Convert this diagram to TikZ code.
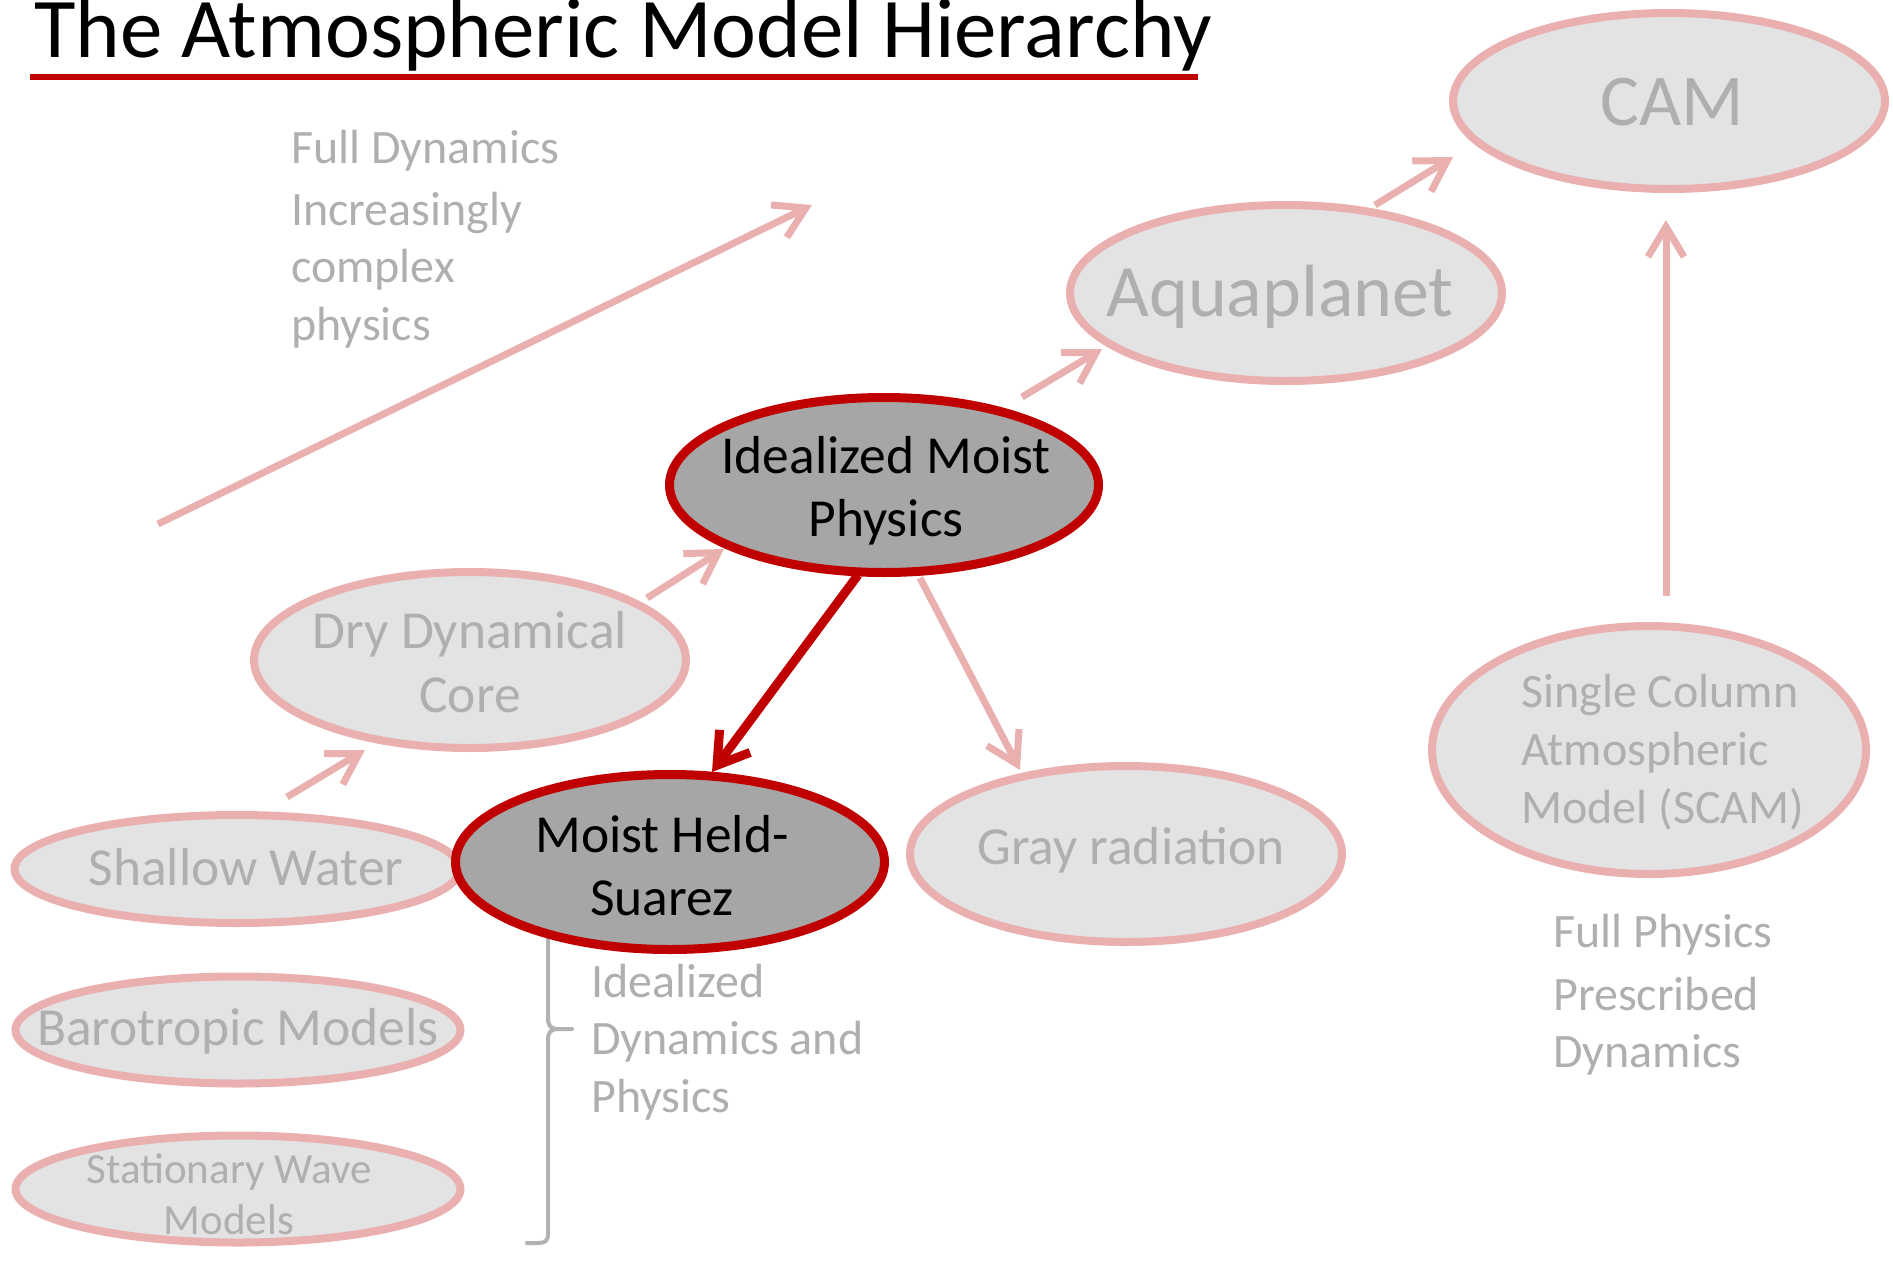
\documentclass[tikz,border=0pt]{standalone}
\usepackage{fontspec}
\setmainfont{Carlito}
\usetikzlibrary{arrows.meta,shapes.geometric}

\definecolor{linkpink}{RGB}{234,176,176}
\definecolor{palefill}{RGB}{227,227,227}
\definecolor{paletext}{RGB}{175,175,175}
\definecolor{darkfill}{RGB}{166,166,166}
\definecolor{hired}{RGB}{192,0,0}
\definecolor{bracegray}{RGB}{178,178,178}

% stacked lines; the node baseline is the first line
\newcommand\linesc[1]{\begin{tabular}[t]{@{}c@{}}#1\end{tabular}}
\newcommand\linesl[1]{\begin{tabular}[t]{@{}l@{}}#1\end{tabular}}

\tikzset{
  model/.style 2 args={ellipse, draw=linkpink, fill=palefill, line width=8pt,
    inner sep=0pt, minimum width=#1, minimum height=#2},
  focus/.style 2 args={ellipse, draw=hired, fill=darkfill, line width=9pt,
    inner sep=0pt, minimum width=#1, minimum height=#2},
  txt/.style={anchor=base, inner sep=0pt, text=paletext},
  note/.style={anchor=base west, inner sep=0pt, text=paletext,
    font=\fontsize{48pt}{57.5pt}\selectfont},
  pinkarrow/.style={draw=linkpink, line width=7pt,
    -{Straight Barb[length=30pt,width=36pt]}},
  redarrow/.style={draw=hired, line width=9pt,
    -{Straight Barb[length=30pt,width=38pt]}},
}

\begin{document}
\begin{tikzpicture}[x=1pt, y=-1pt]
\useasboundingbox (0,0) rectangle (1893,1261);

% title
\node[anchor=base west, inner sep=0pt, font=\fontsize{85pt}{100pt}\selectfont]
  (title) at (34,57) {The Atmospheric Model Hierarchy};
\draw[hired, line width=6pt] (30,77) -- (1198,77);

% trend arrow and its caption
\coordinate (trendA) at (158,524);
\coordinate (trendB) at (812,205);
\draw[pinkarrow] (trendA) -- (trendB);
\node[note] (fulldyn) at (291,163)
  {\linesl{Full Dynamics\\[4.5pt] Increasingly\\ complex\\ physics}};

% brace next to the idealized group
\draw[bracegray, line width=4pt, line cap=round]
  (548,925) -- (548,1018) .. controls (548,1026) and (551,1029) .. (558,1029) -- (572,1029)
  (558,1029) .. controls (551,1029) and (548,1032) .. (548,1040) -- (548,1234)
  .. controls (548,1241) and (545,1243) .. (538,1243) -- (527,1243);
\node[note] (idealdyn) at (591,997)
  {\linesl{Idealized\\ Dynamics and\\ Physics}};

% models
\node[model={445pt}{108pt}] (sw)   at (237,869)  {};
\node[model={445pt}{107pt}] (baro) at (238,1030) {};
\node[model={445pt}{107pt}] (stat) at (238,1189) {};
\node[model={432pt}{176pt}] (dry)  at (470,660)  {};
\node[model={432pt}{176pt}] (gray) at (1126,854) {};
\node[model={432pt}{176pt}] (aqua) at (1286,293) {};
\node[model={432pt}{176pt}] (cam)  at (1669,101) {};
\node[model={434pt}{248pt}] (scam) at (1649,750) {};
\node[focus={429pt}{175pt}] (imp)  at (884,485)  {};
\node[focus={429pt}{175pt}] (mhs)  at (670,862)  {};

% connectors between models
\draw[pinkarrow] ([shift={(50,-72)}]sw.center) -- ([shift={(-105,90)}]dry.center);
\draw[pinkarrow] ([shift={(177,-62)}]dry.center) -- ([shift={(-160,64)}]imp.center);
\draw[pinkarrow] ([shift={(138,-88)}]imp.center) -- ([shift={(-184,56)}]aqua.center);
\draw[pinkarrow] ([shift={(89,-88)}]aqua.center) -- ([shift={(-216,56)}]cam.center);
\draw[pinkarrow] ([shift={(17,-154)}]scam.center) -- ([shift={(-3,119)}]cam.center);
\draw[pinkarrow] ([shift={(36,93)}]imp.center) -- ([shift={(-106,-84)}]gray.center);
\draw[redarrow]  ([shift={(-26,90)}]imp.center) -- ([shift={(42,-90)}]mhs.center);

% model labels
\node[txt, font=\fontsize{73pt}{89pt}\selectfont] (camtext) at (1672,125) {CAM};
\node[txt, font=\fontsize{74pt}{90pt}\selectfont] (aquatext) at (1280,316) {Aquaplanet};
\node[txt, text=black, font=\fontsize{53.5pt}{63.5pt}\selectfont] (imptext) at (886,473)
  {\linesc{Idealized Moist\\ Physics}};
\node[txt, font=\fontsize{53.5pt}{64pt}\selectfont] (drytext) at (470,648)
  {\linesc{Dry Dynamical\\ Core}};
\node[txt, text=black, font=\fontsize{53.5pt}{63pt}\selectfont] (mhstext) at (662,852)
  {\linesc{Moist Held-\\ Suarez}};
\node[txt, font=\fontsize{53.5pt}{63pt}\selectfont] (graytext) at (1131,864) {Gray radiation};
\node[txt, font=\fontsize{53.5pt}{63pt}\selectfont] (swtext) at (246,885) {Shallow Water};
\node[txt, font=\fontsize{53.5pt}{63pt}\selectfont] (barotext) at (238,1045) {Barotropic Models};
\node[txt, font=\fontsize{43pt}{51pt}\selectfont] (stattext) at (229,1183)
  {\linesc{Stationary Wave\\ Models}};
\node[note, font=\fontsize{48pt}{58pt}\selectfont] (scamtext) at (1521,707)
  {\linesl{Single Column\\ Atmospheric\\ Model (SCAM)}};

% caption under the single column model
\node[note] (fullphys) at (1553,947)
  {\linesl{Full Physics\\[5.5pt] Prescribed\\ Dynamics}};
\end{tikzpicture}
\end{document}
